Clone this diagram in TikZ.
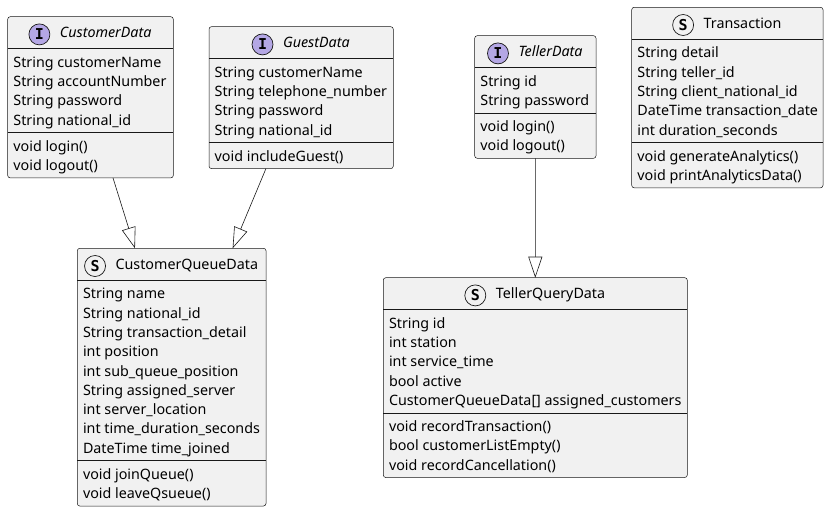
\documentclass[tikz,border=0pt]{standalone}
\usepackage{fontspec}
\setmainfont{Noto Sans}
\newfontfamily\spotfont{DejaVu Sans Mono}
\usetikzlibrary{arrows.meta,positioning}

\definecolor{boxfill}{HTML}{F1F1F1}
\definecolor{boxline}{HTML}{181818}
\definecolor{spotpurple}{HTML}{B4A7E5}

\tikzset{
  classframe/.style={rectangle,draw=boxline,fill=boxfill,line width=0.5pt,rounded corners=2.5pt,inner sep=0,outer sep=0,anchor=north west},
  sepline/.style={draw=boxline,line width=0.5pt},
  titletext/.style={inner sep=0,anchor=base,text height=10pt,text depth=3pt,font=\fontsize{14.3}{16}\selectfont},
  membertext/.style={inner sep=0,anchor=base west,font=\fontsize{14.3}{16}\selectfont},
  spotcircle/.style={circle,draw=boxline,line width=0.7pt,minimum size=21pt,inner sep=0,font=\spotfont\bfseries\fontsize{15}{16}\selectfont},
  ispot/.style={spotcircle,fill=spotpurple,node contents=I},
  sspot/.style={spotcircle,fill=boxfill,node contents=S},
  ext/.style={draw=boxline,line width=0.6pt,-{Triangle[open,length=21pt,width=14pt]}}
}

% #1 name, #2 top left, #3 width, #4 spot style, #5 title,
% #6 no. of attributes, #7 no. of methods, #8 attributes, #9 methods
\newcommand{\classbox}[9]{
\begin{scope}[shift={(#2)}]
\pgfmathsetmacro\sepA{32}
\pgfmathsetmacro\sepM{32+#6*19.3+6.7}
\pgfmathsetmacro\boxh{\sepM+#7*19.3+6.7}
\node[classframe,minimum width=#3,minimum height=\boxh] (#1) at (0,0) {};
\draw[sepline] (0,\sepA) -- (#3,\sepA);
\draw[sepline] (0,\sepM) -- (#3,\sepM);
\node[titletext] (#1-title) at ({#3/2+15.2},21.2) {#5};
\node[#4,left=9.5pt of #1-title,name=#1-spot];
\foreach \member [count=\i] in {#8}
  \node[membertext] (#1-a\i) at (5.5,{\sepA+18.5+(\i-1)*19.3}) {\member};
\foreach \member [count=\i] in {#9}
  \node[membertext] (#1-m\i) at (5.5,{\sepM+18.5+(\i-1)*19.3}) {\member};
\end{scope}
}

\begin{document}
\begin{tikzpicture}[x=1pt,y=-1pt]
\useasboundingbox (0,0) rectangle (829,512);

\classbox{cd}{7.7,16.7}{165.6}{ispot}{\itshape CustomerData}{4}{2}
  {String customerName,String accountNumber,String password,String national\_id}
  {void login(),void logout()}
\classbox{gd}{209,26.7}{184.3}{ispot}{\itshape GuestData}{4}{1}
  {String customerName,String telephone\_number,String password,String national\_id}
  {void includeGuest()}
\classbox{td}{474.7,35.7}{121.3}{ispot}{\itshape TellerData}{2}{2}
  {String id,String password}
  {void login(),void logout()}
\classbox{tr}{631.7,7.3}{191.3}{sspot}{Transaction}{5}{2}
  {String detail,String teller\_id,String client\_national\_id,DateTime transaction\_date,int duration\_seconds}
  {void generateAnalytics(),void printAnalyticsData()}
\classbox{cqd}{77.3,248.3}{188.7}{sspot}{CustomerQueueData}{9}{2}
  {String name,String national\_id,String transaction\_detail,int position,int sub\_queue\_position,String assigned\_server,int server\_location,int time\_duration\_seconds,DateTime time\_joined}
  {void joinQueue(),void leaveQsueue()}
\classbox{tqd}{383.3,277.7}{304}{sspot}{TellerQueryData}{5}{3}
  {String id,int station,int service\_time,bool active,CustomerQueueData[] assigned\_customers}
  {void recordTransaction(),bool customerListEmpty(),void recordCancellation()}

% generalisations
\draw[ext] ([xshift=22.5pt]cd.south) -- ([xshift=-36.7pt]cqd.north);
\draw[ext] ([xshift=-35.2pt]gd.south) -- ([xshift=61pt]cqd.north);
\draw[ext] (td.south) -- (tqd.north);

\end{tikzpicture}
\end{document}
